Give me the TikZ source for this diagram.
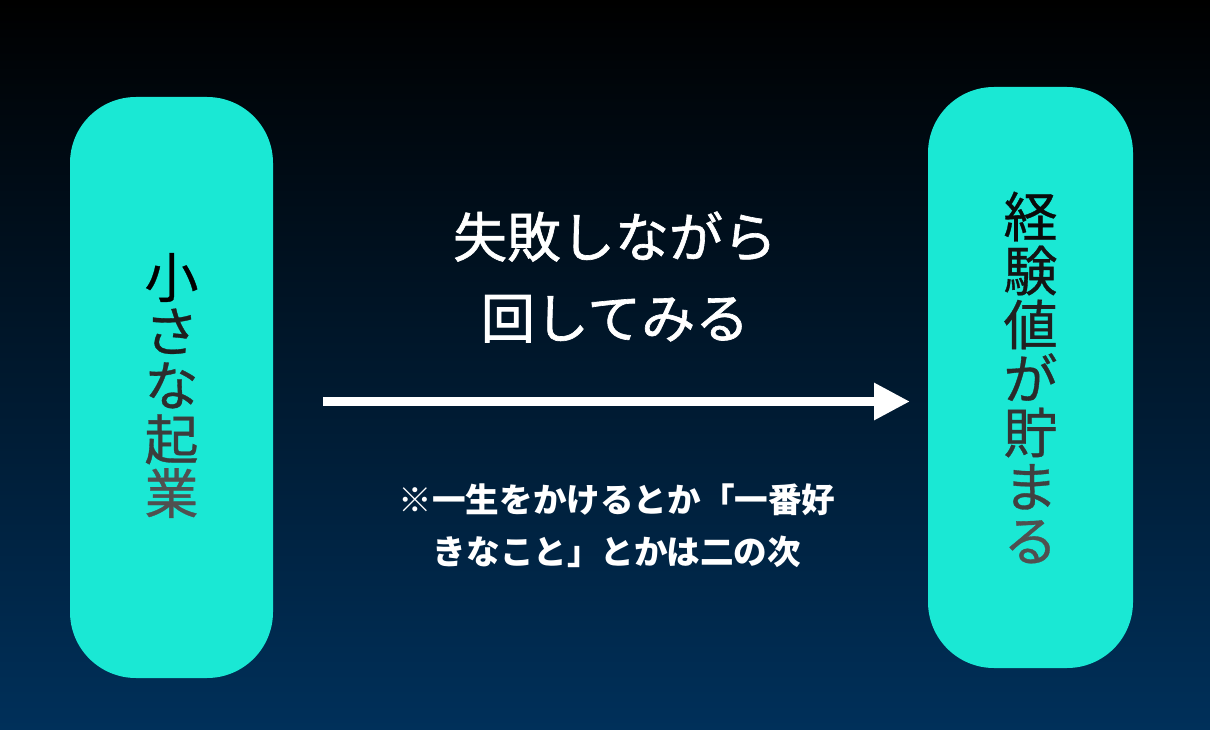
\documentclass[tikz,border=0pt]{standalone}
\usepackage{fontspec}
\newfontfamily\jp{Noto Sans CJK JP}
\newfontfamily\jpm{Noto Sans CJK JP}[FakeBold=1.2]
\newfontfamily\jpv{Noto Sans CJK JP}[FakeBold=0.6]
\usetikzlibrary{arrows.meta}
\definecolor{teal1}{RGB}{26,232,212}
\definecolor{bgtop}{RGB}{0,0,0}
\definecolor{bgbot}{RGB}{0,48,90}
\tikzset{
  pillbox/.style={rectangle, rounded corners=66pt, fill=teal1, inner sep=0pt, draw=none},
  vtext/.style={align=center, font=\jpv\fontsize{54}{54}\selectfont, inner sep=0pt},
  titletext/.style={align=center, text=white, font=\jpm\fontsize{54}{81}\selectfont, inner sep=0pt},
  notetext/.style={align=center, text=white, font=\jp\bfseries\fontsize{33.6}{52}\selectfont, inner sep=0pt},
  bigarrow/.style={draw=white, line width=9pt, -{Triangle[length=36pt,width=35pt]}}
}
\begin{document}
\begin{tikzpicture}[x=1pt,y=-1pt]
\useasboundingbox (0,0) rectangle (1210,730);
\shade[top color=bgtop, bottom color=bgbot] (0,0) rectangle (1210,730);
\node[pillbox, minimum width=203pt, minimum height=581pt] (L) at (171.5,387.5) {};
\node[pillbox, minimum width=205pt, minimum height=581pt] (R) at (1030.5,377.5) {};
\node[vtext] (Lt) at ([yshift=2pt]L.center) {{\color[RGB]{0,0,0}小}\\{\color[RGB]{30,30,30}さ}\\{\color[RGB]{45,45,45}な}\\{\color[RGB]{60,60,60}起}\\{\color[RGB]{80,80,80}業}};
\node[vtext] (Rt) at (R.center) {{\color[RGB]{10,10,10}経}\\{\color[RGB]{20,20,20}験}\\{\color[RGB]{32,32,32}値}\\{\color[RGB]{42,42,42}が}\\{\color[RGB]{52,52,52}貯}\\{\color[RGB]{64,64,64}ま}\\{\color[RGB]{80,80,80}る}};
\node[titletext] (T) at (615,277) {失敗しながら\\回してみる};
\node[notetext] (N) at (617,526) {※一生をかけるとか「一番好\\きなこと」とかは二の次};
\coordinate (as) at (323,401.5);
\coordinate (ae) at (910,401.5);
\draw[bigarrow] (as) -- (ae);
\end{tikzpicture}
\end{document}
